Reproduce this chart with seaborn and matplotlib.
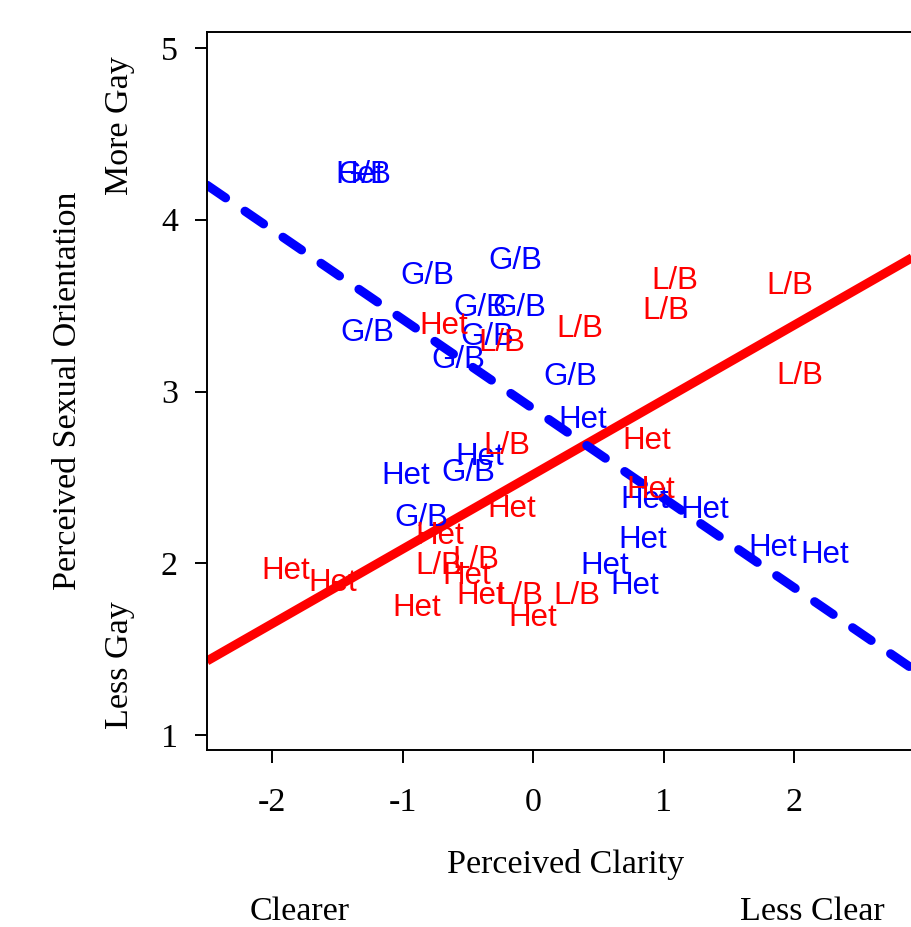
import numpy as np
import pandas as pd
import matplotlib
matplotlib.use("Agg")
import matplotlib.pyplot as plt
import matplotlib.transforms as mtransforms
import seaborn as sns

# blue targets (men)
blue_labels = ["Het", "G/B", "G/B", "G/B", "G/B", "G/B", "G/B", "G/B", "G/B", "G/B",
               "Het", "Het", "G/B", "Het", "G/B", "Het", "Het", "Het", "Het", "Het",
               "Het", "Het"]
blue_x = [-1.333, -1.295, -0.812, -0.138, -0.406, -0.107, -1.272, -0.352, -0.575, 0.284,
          0.375, -0.414, -0.498, -0.981, -0.858, 0.544, 0.774, 0.851, 1.310, 0.835,
          1.831, 2.230]
blue_y = [4.278, 4.278, 3.690, 3.777, 3.504, 3.504, 3.358, 3.335, 3.201, 3.102,
          2.852, 2.636, 2.543, 2.525, 2.281, 2.001, 1.885, 2.386, 2.328, 2.153,
          2.106, 2.065]

# red targets (women)
red_labels = ["Het", "L/B", "L/B", "L/B", "L/B", "L/B", "L/B", "L/B", "Het", "Het",
              "L/B", "L/B", "Het", "Het", "L/B", "L/B", "Het", "Het", "Het", "Het",
              "Het", "Het"]
red_x = [-0.690, -0.238, 0.352, 1.080, 1.011, 1.962, 2.038, -0.207, -0.169, -0.720,
         -0.728, -0.444, -0.513, -0.406, -0.100, 0.330, -0.897, -0.008, -1.893, -1.540,
         0.866, 0.897]
red_y = [3.399, 3.300, 3.381, 3.661, 3.486, 3.632, 3.108, 2.700, 2.333, 2.176,
         2.001, 2.036, 1.943, 1.827, 1.827, 1.827, 1.757, 1.699, 1.972, 1.902,
         2.729, 2.444]

# fitted lines: intercept, slope
red_fit = (2.518, 0.4347)
blue_fit = (2.899, -0.521)

x_ticks = [-2, -1, 0, 1, 2]
y_ticks = [1, 2, 3, 4, 5]

sns.set_style("ticks")
plt.rcParams["font.family"] = ["Liberation Serif", "DejaVu Serif"]
plt.rcParams["text.color"] = "black"
plt.rcParams["xtick.color"] = "black"
plt.rcParams["ytick.color"] = "black"
plt.rcParams["axes.edgecolor"] = "black"

fig = plt.figure(figsize=(9.12, 9.27), dpi=100)
ax = fig.add_axes([207 / 912, 177 / 927, 718 / 912, 718 / 927])

xlim = (-2.5, 3.0)
ylim = (0.913, 5.093)

line_x = np.array(xlim)
lines = pd.DataFrame({
    "x": np.concatenate([line_x, line_x]),
    "y": np.concatenate([red_fit[0] + red_fit[1] * line_x,
                         blue_fit[0] + blue_fit[1] * line_x]),
    "grp": ["red", "red", "blue", "blue"],
})
sns.lineplot(data=lines[lines.grp == "red"], x="x", y="y", color="#ff0000",
             linewidth=6.5, solid_capstyle="butt", ax=ax)
sns.lineplot(data=lines[lines.grp == "blue"], x="x", y="y", color="#0000ff",
             linewidth=6.5, dashes=False, ax=ax)
ax.lines[-1].set_dashes((2.5, 2.6))
ax.lines[-1].set_dash_capstyle("round")

# shift labels a little so the caps sit centred on the point
lab_tr = mtransforms.offset_copy(ax.transData, fig=fig, y=-3, units="dots")
for lab, x, y in zip(blue_labels, blue_x, blue_y):
    ax.text(x, y, lab, color="#0000ff", ha="center", va="center",
            family="Liberation Sans", fontsize=22.5, transform=lab_tr)
for lab, x, y in zip(red_labels, red_x, red_y):
    ax.text(x, y, lab, color="#ff0000", ha="center", va="center",
            family="Liberation Sans", fontsize=22.5, transform=lab_tr)

ax.set_xlim(*xlim)
ax.set_ylim(*ylim)
ax.set_xticks(x_ticks)
ax.set_xticklabels([str(v) for v in x_ticks])
ax.set_yticks(y_ticks)
ax.set_yticklabels([str(v) for v in y_ticks])
ax.tick_params(axis="both", labelsize=24.5, length=9, width=1.4, direction="out")
ax.tick_params(axis="x", pad=18)
ax.tick_params(axis="y", pad=12)
for s in ax.spines.values():
    s.set_linewidth(1.4)
ax.set_xlabel("")
ax.set_ylabel("")

ax.text(0.5, -0.16, "Perceived Clarity", transform=ax.transAxes,
        ha="center", va="center", fontsize=24.5)
ax.text(-0.1936, 0.5, "Perceived Sexual Orientation", transform=ax.transAxes,
        ha="center", va="center", rotation=90, fontsize=24.5)
ax.text(0.1295, -0.225, "Clearer", transform=ax.transAxes,
        ha="center", va="center", fontsize=24.5)
ax.text(0.8426, -0.225, "Less Clear", transform=ax.transAxes,
        ha="center", va="center", fontsize=24.5)
ax.text(-0.121, 0.870, "More Gay", transform=ax.transAxes,
        ha="center", va="center", rotation=90, fontsize=24.5)
ax.text(-0.121, 0.118, "Less Gay", transform=ax.transAxes,
        ha="center", va="center", rotation=90, fontsize=24.5)

fig.savefig("out.png", dpi=100)
